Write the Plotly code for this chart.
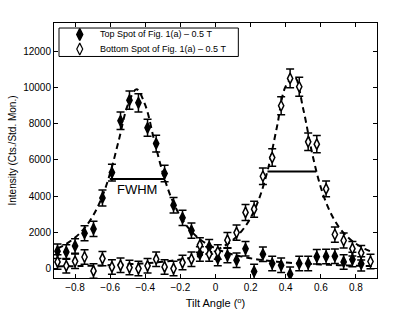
import plotly.graph_objects as go

# ---- data ----
tilt = [-0.90, -0.85, -0.80, -0.746, -0.695, -0.644, -0.59, -0.541, -0.49, -0.439,
        -0.387, -0.338, -0.29, -0.239, -0.188, -0.137, -0.089, -0.036, 0.013, 0.068,
        0.12, 0.171, 0.22, 0.27, 0.323, 0.374, 0.425, 0.477, 0.528, 0.577,
        0.63, 0.68, 0.73, 0.78, 0.83, 0.883]

top_y = [960, 920, 1250, 1950, 2190, 3900, 5300, 8160, 9300, 9150,
         7770, 6900, 5250, 3500, 2800, 2100, 800, 1200, 560, 720,
         460, 1090, -160, 790, 280, 180, -310, 280, 280, 650,
         670, 680, 370, 500, 260]
top_err = [400, 400, 400, 420, 420, 440, 460, 480, 500, 500,
           470, 460, 450, 430, 420, 420, 400, 400, 400, 400,
           400, 400, 400, 400, 400, 400, 400, 400, 400, 400,
           400, 400, 400, 400, 400]

bot_y = [370, 150, 400, 640, -130, 550, 90, 180, 55, 0,
         150, 520, 90, 0, 330, 520, 1300, 800, 920, 1570,
         1990, 3100, 3280, 5100, 6130, 8990, 10500, 10040, 7000, 6870,
         4400, 1880, 1550, 1100, 870, 390]
bot_err = [400, 400, 400, 400, 400, 400, 400, 400, 400, 400,
           400, 400, 400, 400, 400, 400, 400, 400, 400, 420,
           420, 440, 440, 460, 480, 500, 520, 520, 480, 480,
           440, 420, 420, 400, 400, 400]

fit_x = [-0.90, -0.85, -0.80, -0.75, -0.70, -0.65, -0.60, -0.55, -0.50, -0.45,
         -0.40, -0.35, -0.30, -0.25, -0.20, -0.15, -0.10, -0.05, 0.0, 0.05,
         0.10, 0.15, 0.20, 0.25, 0.30, 0.35, 0.40, 0.45, 0.50, 0.55,
         0.60, 0.65, 0.70, 0.75, 0.80, 0.85, 0.90]
fit_top = [1110, 1365, 1710, 2190, 2880, 3860, 5270, 7120, 9020, 9900,
           9020, 7120, 5270, 3860, 2880, 2190, 1710, 1365, 1110, 920,
           775, 660, 565, 490, 430, 380, 340, 305, 275, 250,
           225, 205, 190, 175, 160, 150, 140]
fit_bot = [116, 125, 136, 148, 160, 175, 192, 212, 235, 260,
           292, 330, 374, 430, 496, 580, 686, 824, 1005, 1250,
           1590, 2080, 2800, 3900, 5540, 7820, 10070, 10580, 8800, 6390,
           4480, 3190, 2335, 1765, 1370, 1093, 890]

fwhm_top_x = [-0.602, -0.289]
fwhm_top_y = [4950, 4950]
fwhm_bot_x = [0.296, 0.574]
fwhm_bot_y = [5360, 5360]

x_ticks = [-0.8, -0.6, -0.4, -0.2, 0, 0.2, 0.4, 0.6, 0.8]
x_tick_text = ["\u22120.8", "\u22120.6", "\u22120.4", "\u22120.2", "0", "0.2", "0.4", "0.6", "0.8"]
y_ticks = [0, 2000, 4000, 6000, 8000, 10000, 12000]
y_tick_text = ["0", "2000", "4000", "6000", "8000", "10000", "12000"]

series_names = ["Top Spot of Fig. 1(a) \u2013 0.5 T", "Bottom Spot of Fig. 1(a) \u2013 0.5 T"]

FONT = "Liberation Sans, Arial, Helvetica, sans-serif"

fig = go.Figure()

dash_line = dict(color="black", width=2, dash="6px,4px")
fig.add_trace(go.Scatter(x=fit_x, y=fit_top, mode="lines", line=dict(shape="spline", **dash_line),
                         showlegend=False, hoverinfo="skip"))
fig.add_trace(go.Scatter(x=fit_x, y=fit_bot, mode="lines", line=dict(shape="spline", **dash_line),
                         showlegend=False, hoverinfo="skip"))
fig.add_trace(go.Scatter(x=fwhm_top_x, y=fwhm_top_y, mode="lines", line=dict(color="black", width=2),
                         showlegend=False, hoverinfo="skip"))
fig.add_trace(go.Scatter(x=fwhm_bot_x, y=fwhm_bot_y, mode="lines", line=dict(color="black", width=2),
                         showlegend=False, hoverinfo="skip"))

top_marker = dict(symbol="diamond-tall", size=7.5, color="black", line=dict(color="black", width=1.5))
bot_marker = dict(symbol="diamond-tall", size=7.5, color="white", line=dict(color="black", width=1.5))
leg_top_marker = dict(symbol="diamond-tall", size=8.5, color="black", line=dict(color="black", width=1.5))
leg_bot_marker = dict(symbol="diamond-tall", size=8.5, color="white", line=dict(color="black", width=1.2))

fig.add_trace(go.Scatter(
    x=tilt[:len(top_y)], y=top_y, mode="markers", name=series_names[0], showlegend=False,
    marker=top_marker,
    error_y=dict(type="data", array=top_err, visible=True, color="black", thickness=1.5, width=4),
))
fig.add_trace(go.Scatter(
    x=tilt, y=bot_y, mode="markers", name=series_names[1], showlegend=False,
    marker=bot_marker,
    error_y=dict(type="data", array=bot_err, visible=True, color="black", thickness=1.5, width=4),
))

# ---- compact legend (box, keys, labels) in plot-area fractions ----
leg_box = dict(x0=0.0155, x1=0.5707, y0=0.8687, y1=0.9803)
leg_rows = [0.9552, 0.8978]
leg_key_x = 0.0797
leg_text_x = 0.1365
fig.add_shape(type="rect", xref="paper", yref="paper", line=dict(color="black", width=1),
              fillcolor="white", layer="below", **leg_box)
fig.add_trace(go.Scatter(x=[leg_key_x], y=[leg_rows[0]], xaxis="x2", yaxis="y2", mode="markers",
                         marker=leg_top_marker, showlegend=False, hoverinfo="skip"))
fig.add_trace(go.Scatter(x=[leg_key_x], y=[leg_rows[1]], xaxis="x2", yaxis="y2", mode="markers",
                         marker=leg_bot_marker, showlegend=False, hoverinfo="skip"))
for name, ry in zip(series_names, leg_rows):
    fig.add_annotation(x=leg_text_x, y=ry, xref="paper", yref="paper", text=name,
                       showarrow=False, xanchor="left", yanchor="middle",
                       font=dict(family=FONT, size=9, color="black"))

fig.add_annotation(x=-0.45, y=4350, text="FWHM", showarrow=False,
                   font=dict(family=FONT, size=13, color="black"))

fig.update_layout(
    width=415, height=313,
    margin=dict(l=54, r=38, t=23, b=35, autoexpand=False),
    paper_bgcolor="white", plot_bgcolor="white",
    font=dict(family=FONT, size=10, color="black"),
    showlegend=False,
    xaxis2=dict(overlaying="x", range=[0, 1], visible=False, fixedrange=True),
    yaxis2=dict(overlaying="y", range=[0, 1], visible=False, fixedrange=True),
    xaxis=dict(range=[-0.92, 0.92], tickvals=x_ticks, ticktext=x_tick_text, automargin=False,
               ticks="inside", ticklen=4, tickcolor="black", showline=True, linecolor="black",
               linewidth=1, mirror="ticks", showgrid=False, zeroline=False,
               title=dict(text="Tilt Angle (<sup>o</sup>)", font=dict(size=11), standoff=7),
               tickfont=dict(size=10)),
    yaxis=dict(range=[-520, 13560], tickvals=y_ticks, ticktext=y_tick_text, automargin=False,
               ticks="inside", ticklen=4, tickcolor="black", showline=True, linecolor="black",
               linewidth=1, mirror="ticks", showgrid=False, zeroline=False,
               title=dict(text="Intensity (Cts./Std. Mon.)", font=dict(size=10), standoff=4),
               tickfont=dict(size=10)),
)

fig.write_html("out.html", config=dict(displayModeBar=False),
               post_script="document.body.style.margin='0';document.body.style.padding='0';")
